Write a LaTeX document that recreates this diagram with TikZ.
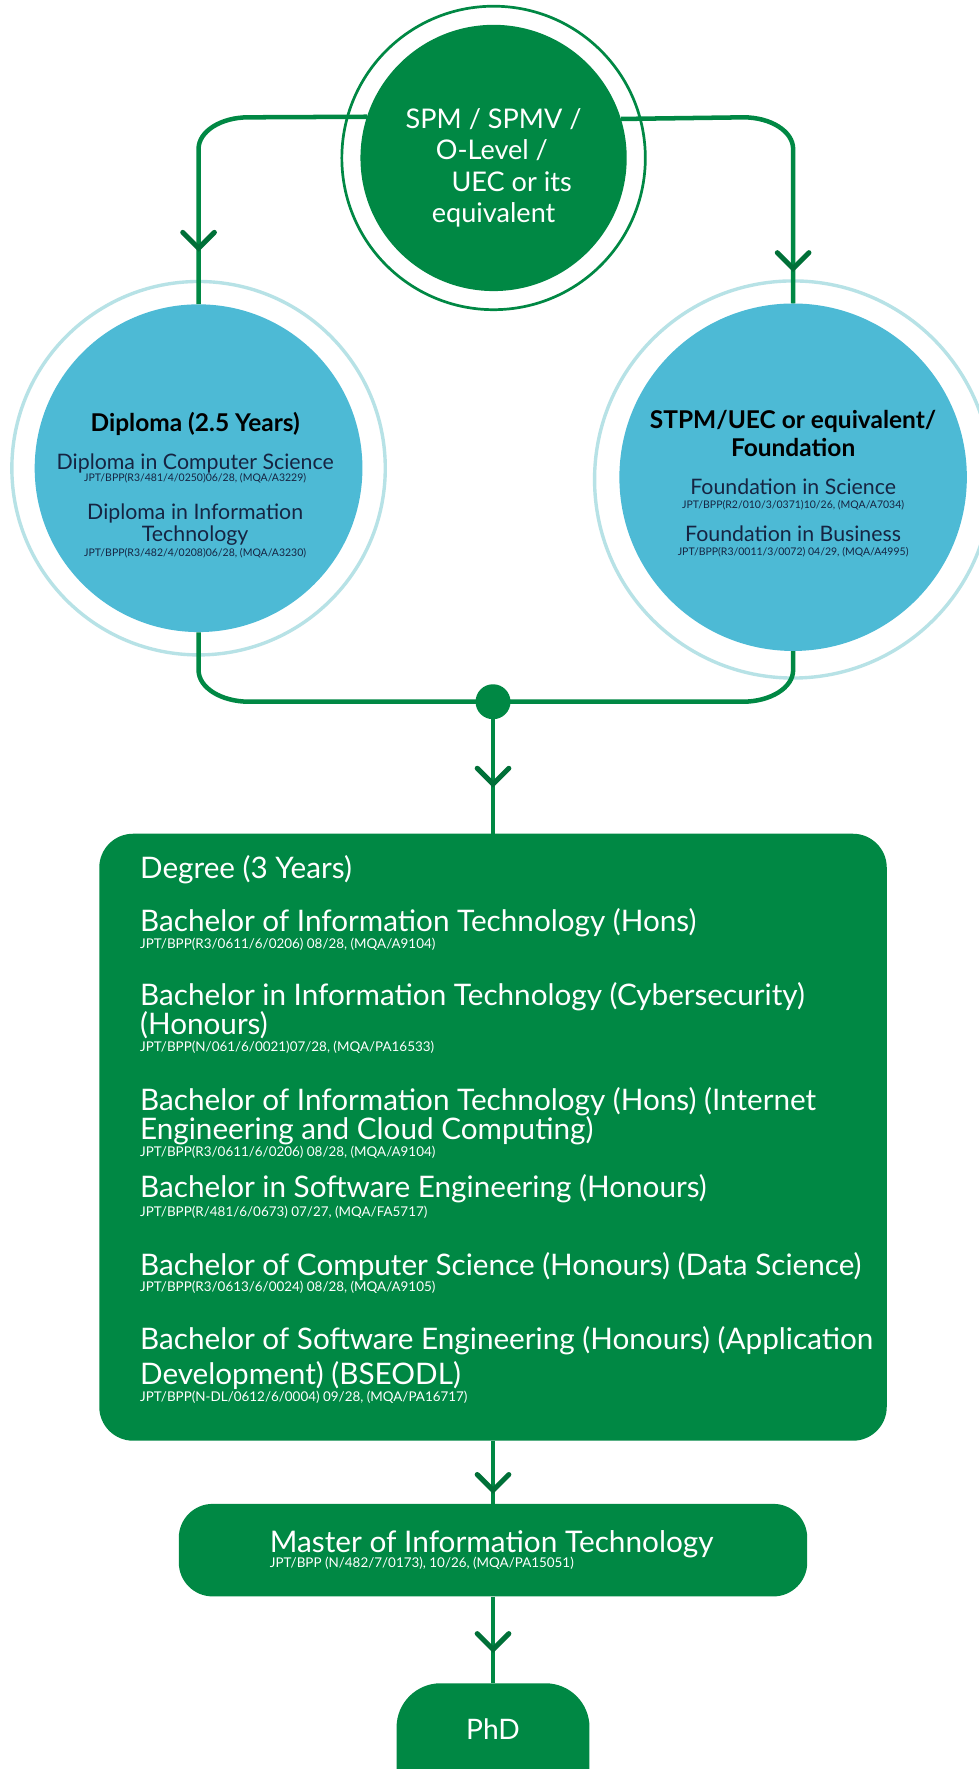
\documentclass[tikz,border=0pt]{standalone}
\usepackage{fontspec}
\setmainfont{Lato}
\definecolor{pgreen}{RGB}{0,136,68}
\definecolor{agreen}{RGB}{0,112,56}
\definecolor{cfill}{RGB}{77,186,213}
\definecolor{cring}{RGB}{183,226,230}
\definecolor{navy}{RGB}{22,36,66}
\newcommand\myfs[1]{\fontsize{#1}{#1}\selectfont}
\begin{document}
\begin{tikzpicture}[x=1pt,y=-1pt,
  fillcirc/.style={circle, inner sep=0pt, fill=#1},
  ringcirc/.style={circle, inner sep=0pt, draw=#1},
  conn/.style={draw=pgreen, line width=4pt},
  chev/.style={draw=agreen, line width=4.5pt, line cap=round, line join=miter},
  box/.style={fill=pgreen, inner sep=0pt},
  tc/.style={inner sep=0pt, anchor=base},
  tl/.style={inner sep=0pt, anchor=base west, text=white},
]
\useasboundingbox (0,0) rectangle (867,1568);
\fill[white] (0,0) rectangle (867,1568);

% circles
\node[fillcirc=pgreen, minimum size=236pt] (top) at (437.5,140) {};
\node[ringcirc=pgreen, line width=2.4pt, minimum size=269pt] (topring) at (437.5,140) {};
\node[fillcirc=cfill, minimum size=290.5pt] (dip) at (176,415) {};
\node[ringcirc=cring, line width=3pt, minimum size=331pt] (dipring) at (176,415) {};
\node[fillcirc=cfill, minimum size=308pt] (fnd) at (703,423) {};
\node[ringcirc=cring, line width=3pt, minimum size=352pt] (fndring) at (703,425) {};

% boxes
\node[box, minimum width=698pt, minimum height=538pt, rounded corners=30pt] (deg) at (437,1008) {};
\node[box, minimum width=557pt, minimum height=82pt, rounded corners=30pt] (master) at (437,1374) {};
\node[box, minimum width=171pt, minimum height=130pt, rounded corners=39pt] (phd) at (437,1557) {};
\node[fillcirc=pgreen, minimum size=31pt] (dot) at (437,622) {};

% chevron positions
\coordinate (c1) at (176,220);
\coordinate (c2) at (703,238);
\coordinate (c3) at (437,695);
\coordinate (c4) at (437,1321);
\coordinate (c5) at (437,1462);

% connectors
\draw[conn] (top.162.3) -- (220,104) .. controls (195.7,104) and (176,116.5) .. (176,132) -- (dip.north);
\draw[conn] (top.17.7) -- (659,104) .. controls (683.3,104) and (703,116.5) .. (703,132) -- (fnd.north);
\draw[conn] (dip.south) -- (176,594) .. controls (176,609.5) and (196,622) .. (221,622) -- (dot.center);
\draw[conn] (fnd.south) -- (703,594) .. controls (703,609.5) and (683,622) .. (658,622) -- (dot.center);
\draw[conn] (dot.center) -- (deg.north);
\draw[conn] (deg.south) -- (master.north);
\draw[conn] (master.south) -- (phd.north);
\foreach \c in {c1,c2,c3,c4,c5}
  \draw[chev] ([shift={(-14,-14)}]\c) -- (\c) -- ([shift={(14,-14)}]\c);

% top circle text
\begin{scope}[every node/.style={tc, text=white, font=\myfs{24}}]
\node (s1) at (437.5,113.5) {SPM / SPMV /};
\node (s2) at (436,141.8) {O-Level /};
\node (s3) at (453.5,170) {UEC or its};
\node (s4) at (437.5,197.6) {equivalent};
\end{scope}

% diploma text
\node[tc, text=black, font=\bfseries\myfs{21.7}] (d0) at (173,382.5) {Diploma (2.5 Years)};
\node[tc, text=navy, font=\myfs{18.9}] (d1) at (173,416) {Diploma in Computer Science};
\node[tc, text=navy, font=\myfs{9.3}] (d1c) at (173,426.8) {JPT/BPP(R3/481/4/0250)06/28, (MQA/A3229)};
\node[tc, text=navy, font=\myfs{18.9}] (d2) at (173,460.7) {Diploma in Information};
\node[tc, text=navy, font=\myfs{18.9}] (d2b) at (173,480) {Technology};
\node[tc, text=navy, font=\myfs{9.3}] (d2c) at (173,493) {JPT/BPP(R3/482/4/0208)06/28, (MQA/A3230)};

% foundation text
\node[tc, text=black, font=\bfseries\myfs{21.7}] (f0) at (703,379.5) {STPM/UEC or equivalent/};
\node[tc, text=black, font=\bfseries\myfs{21.7}] (f0b) at (703,404.6) {Foundation};
\node[tc, text=navy, font=\myfs{18.9}] (f1) at (703,438.6) {Foundation in Science};
\node[tc, text=navy, font=\myfs{9.3}] (f1c) at (703,450.4) {JPT/BPP(R2/010/3/0371)10/26, (MQA/A7034)};
\node[tc, text=navy, font=\myfs{18.9}] (f2) at (703,480) {Foundation in Business};
\node[tc, text=navy, font=\myfs{9.3}] (f2c) at (703,492.6) {JPT/BPP(R3/0011/3/0072) 04/29, (MQA/A4995)};

% degree text
\begin{scope}[every node/.style={tl, font=\myfs{26.3}}]
\node (g0) at (124,779) {Degree (3 Years)};
\node (g1) at (124,825.5) {Bachelor of Information Technology (Hons)};
\node (g2) at (124,891.3) {Bachelor in Information Technology (Cybersecurity)};
\node (g2b) at (124,917) {(Honours)};
\node (g3) at (124,984) {Bachelor of Information Technology (Hons) (Internet};
\node (g3b) at (124,1010) {Engineering and Cloud Computing)};
\node (g4) at (124,1061.7) {Bachelor in Software Engineering (Honours)};
\node (g5) at (124,1130.5) {Bachelor of Computer Science (Honours) (Data Science)};
\node (g6) at (124,1196) {Bachelor of Software Engineering (Honours) (Application};
\node (g6b) at (124,1227) {Development) (BSEODL)};
\end{scope}
\begin{scope}[every node/.style={tl, font=\myfs{11.9}}]
\node (g1c) at (124,841) {JPT/BPP(R3/0611/6/0206) 08/28, (MQA/A9104)};
\node (g2c) at (124,931.8) {JPT/BPP(N/061/6/0021)07/28, (MQA/PA16533)};
\node (g3c) at (124,1024.8) {JPT/BPP(R3/0611/6/0206) 08/28, (MQA/A9104)};
\node (g4c) at (124,1078) {JPT/BPP(R/481/6/0673) 07/27, (MQA/FA5717)};
\node (g5c) at (124,1144.4) {JPT/BPP(R3/0613/6/0024) 08/28, (MQA/A9105)};
\node (g6c) at (124,1242) {JPT/BPP(N-DL/0612/6/0004) 09/28, (MQA/PA16717)};
\end{scope}

% master & phd text
\node[tl, font=\myfs{26.4}] (m1) at (239,1376) {Master of Information Technology};
\node[tl, font=\myfs{11.9}] (m1c) at (239,1389.5) {JPT/BPP (N/482/7/0173), 10/26, (MQA/PA15051)};
\node[tc, text=white, font=\myfs{25}] (p1) at (437,1541.7) {PhD};
\end{tikzpicture}
\end{document}
